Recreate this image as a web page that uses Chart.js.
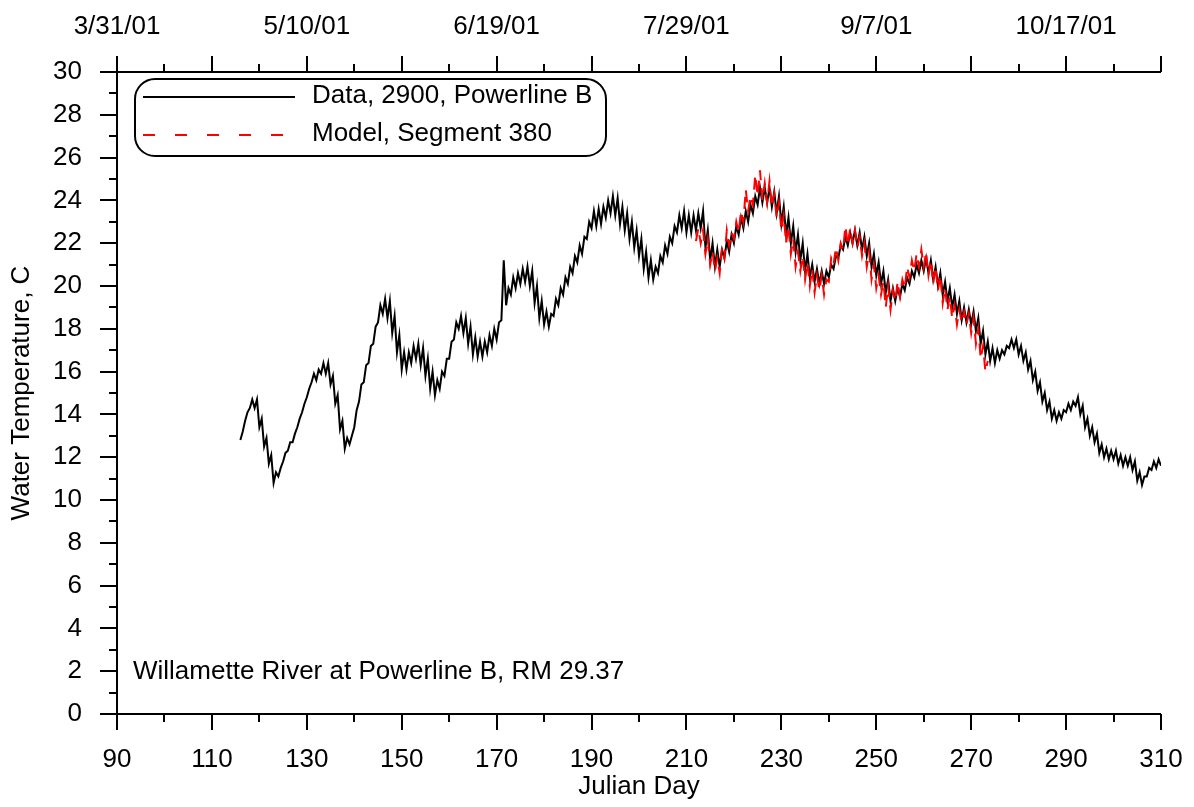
<!DOCTYPE html>
<html>
<head>
<meta charset="utf-8">
<script src="https://cdn.jsdelivr.net/npm/chart.js@4.4.0/dist/chart.umd.min.js"></script>
<style>
  body { margin: 0; background: #fff; }
  canvas { display: block; }
</style>
</head>
<body>
<canvas id="grafica" width="1194" height="807"></canvas>
<script>
// datos (dia juliano, temperatura C)
// un minimo y un maximo por dia: minimo en el dia, maximo medio dia despues
const dataStartDay = 116;
const dataLow = [
  12.8, 13.7, 14.3, 14.3, 13.4, 12.5, 11.7, 10.8, 11.1, 11.8,
  12.3, 12.7, 13.4, 14.1, 14.8, 15.5, 15.6, 15.9, 15.9, 15.4,
  14.5, 13.3, 12.4, 12.6, 13.4, 14.6, 15.5, 16.4, 17.3, 18.3,
  18.7, 18.5, 17.8, 16.9, 16.1, 16.1, 16.4, 16.6, 16.3, 15.8,
  15.2, 14.9, 15.2, 15.8, 16.6, 17.5, 18.0, 17.8, 17.3, 16.8,
  16.7, 16.7, 16.9, 17.2, 17.5, 18.4, 19.1, 19.6, 19.9, 20.1,
  20.2, 20.0, 19.2, 18.5, 18.2, 18.1, 18.6, 19.1, 19.6, 20.1,
  20.6, 21.1, 21.5, 22.2, 22.7, 22.8, 22.9, 23.2, 23.4, 23.3,
  22.9, 22.6, 22.2, 21.8, 21.4, 20.8, 20.4, 20.3, 20.6, 21.1,
  21.5, 22.0, 22.5, 22.7, 22.5, 22.5, 22.6, 22.7, 21.8, 21.2,
  20.9, 20.9, 21.3, 21.6, 22.0, 22.4, 22.7, 23.0, 23.4, 23.8,
  23.9, 23.9, 23.7, 23.4, 22.9, 22.4, 22.0, 21.6, 21.2, 20.7,
  20.4, 20.2, 20.1, 20.1, 20.4, 20.8, 21.3, 21.7, 21.9, 22.0,
  21.9, 21.7, 21.4, 20.9, 20.5, 20.1, 19.7, 19.3, 19.3, 19.5,
  19.8, 20.1, 20.4, 20.6, 20.7, 20.6, 20.3, 20.0, 19.6, 19.3,
  19.0, 18.7, 18.4, 18.3, 18.2, 17.9, 17.3, 16.8, 16.5, 16.4,
  16.6, 16.8, 17.1, 17.1, 16.8, 16.5, 16.1, 15.6, 15.1, 14.6,
  14.2, 13.8, 13.7, 13.8, 14.1, 14.2, 14.4, 14.0, 13.4, 13.0,
  12.7, 12.2, 12.0, 11.9, 11.9, 11.7, 11.6, 11.6, 11.4, 10.9,
  10.7, 11.1, 11.4, 11.5, 11.6
];
const dataHigh = [
  13.2, 14.1, 14.7, 14.7, 13.8, 12.9, 12.1, 11.3, 11.5, 12.2,
  12.7, 13.1, 13.8, 14.5, 15.2, 15.9, 16.1, 16.4, 16.4, 15.8,
  14.9, 13.7, 12.9, 13.0, 14.2, 15.4, 16.3, 17.2, 18.1, 19.1,
  19.4, 19.3, 18.6, 17.7, 16.9, 16.9, 17.2, 17.3, 17.1, 16.6,
  16.0, 15.6, 16.0, 16.6, 17.4, 18.3, 18.6, 18.5, 18.1, 17.6,
  17.4, 17.4, 17.7, 18.0, 18.3, 21.2, 19.9, 20.4, 20.6, 20.8,
  20.9, 20.7, 20.0, 19.3, 18.8, 18.7, 19.4, 19.9, 20.4, 20.9,
  21.4, 21.9, 22.3, 23.0, 23.5, 23.6, 23.7, 24.0, 24.2, 24.1,
  23.7, 23.4, 23.0, 22.6, 22.2, 21.6, 21.2, 20.9, 21.4, 21.9,
  22.3, 22.8, 23.3, 23.5, 23.3, 23.3, 23.4, 23.5, 22.6, 22.0,
  21.7, 21.7, 22.1, 22.4, 22.8, 23.2, 23.5, 23.8, 24.2, 24.6,
  24.6, 24.6, 24.4, 24.2, 23.7, 23.2, 22.8, 22.4, 22.0, 21.5,
  21.0, 20.8, 20.7, 20.7, 21.0, 21.4, 21.9, 22.3, 22.5, 22.6,
  22.5, 22.3, 22.0, 21.5, 21.1, 20.7, 20.3, 19.9, 19.9, 20.1,
  20.4, 20.7, 21.0, 21.2, 21.3, 21.2, 20.9, 20.6, 20.2, 19.9,
  19.6, 19.3, 19.0, 18.9, 18.8, 18.5, 17.9, 17.4, 17.1, 17.0,
  17.0, 17.2, 17.5, 17.5, 17.2, 16.9, 16.5, 16.0, 15.5, 15.0,
  14.6, 14.2, 14.1, 14.2, 14.5, 14.6, 14.8, 14.4, 13.8, 13.4,
  13.1, 12.6, 12.4, 12.3, 12.3, 12.1, 12.0, 12.0, 11.8, 11.3,
  11.1, 11.5, 11.8, 11.9, 12.0
];

// modelo, segmento 380
const modelStartDay = 212;
const modelLow = [
  22.1, 22.0, 21.5, 21.0, 20.7, 20.6, 21.3, 21.9, 22.2, 22.5,
  23.0, 23.5, 23.8, 24.2, 24.0, 23.9, 23.7, 23.2, 22.6, 22.0,
  21.5, 20.9, 20.7, 20.3, 20.0, 19.7, 19.8, 19.6, 20.2, 21.0,
  21.2, 21.7, 21.9, 22.0, 21.8, 21.4, 20.9, 20.3, 19.9, 19.6,
  19.0, 18.9, 19.3, 19.5, 19.9, 20.4, 20.7, 20.9, 20.9, 20.5,
  20.1, 19.8, 19.2, 18.9, 18.5, 18.2, 18.3, 18.2, 17.8, 17.3,
  16.6, 16.0
];
const modelHigh = [
  22.7, 22.6, 22.2, 21.6, 21.3, 21.8, 22.6, 22.5, 23.0, 23.5,
  24.5, 24.2, 25.2, 25.4, 24.8, 24.9, 24.3, 23.9, 23.3, 22.8,
  22.2, 21.6, 21.4, 21.1, 20.8, 20.5, 20.5, 20.3, 21.3, 21.8,
  22.0, 22.8, 22.7, 22.6, 22.3, 22.0, 21.6, 21.0, 20.5, 20.2,
  20.0, 19.8, 20.2, 20.3, 20.9, 21.2, 21.5, 21.7, 21.6, 21.2,
  20.9, 20.5, 19.9, 19.5, 19.1, 18.9, 18.8, 18.7, 18.5, 18.0,
  17.2, 16.5
];

// etiquetas de los ejes
const xTicks = [90, 110, 130, 150, 170, 190, 210, 230, 250, 270, 290, 310];
const yTicks = [0, 2, 4, 6, 8, 10, 12, 14, 16, 18, 20, 22, 24, 26, 28, 30];
const topDays = [90, 130, 170, 210, 250, 290];
const topLabels = ["3/31/01", "5/10/01", "6/19/01", "7/29/01", "9/7/01", "10/17/01"];

const legendNames = ["Data, 2900, Powerline B", "Model, Segment 380"];
const rotulo = "Willamette River at Powerline B, RM 29.37";

const fuente = { family: "'Liberation Sans', Arial, sans-serif", size: 26 };
const fuenteCss = "26px 'Liberation Sans', Arial, sans-serif";

// arma los puntos: minimo y maximo de cada dia
function puntos(inicio, bajos, altos) {
  let pts = [];
  for (let i = 0; i < bajos.length; i++) {
    pts.push({ x: inicio + i, y: bajos[i] });
    pts.push({ x: inicio + i + 0.5, y: altos[i] });
  }
  return pts;
}

// ejes con marcas mayores y menores, cuadro de leyenda y rotulo
const ejesPlugin = {
  id: "ejes",
  afterDraw(chart) {
    const ctx = chart.ctx;
    const sx = chart.scales.x, sy = chart.scales.y, st = chart.scales.x2;
    const a = chart.chartArea;
    ctx.save();
    ctx.strokeStyle = "#000";
    ctx.lineWidth = 2;
    ctx.setLineDash([]);
    ctx.beginPath();
    ctx.moveTo(a.left, a.top); ctx.lineTo(a.left, a.bottom);
    ctx.moveTo(a.left, a.bottom); ctx.lineTo(a.right, a.bottom);
    ctx.moveTo(a.left, a.top); ctx.lineTo(a.right, a.top);
    // marcas eje y
    for (let v = 0; v <= 30; v += 1) {
      const py = Math.round(sy.getPixelForValue(v));
      const len = v % 2 === 0 ? 17 : 8;
      ctx.moveTo(a.left, py); ctx.lineTo(a.left - len, py);
    }
    // marcas ejes x (abajo y arriba)
    for (let d = 90; d <= 310; d += 10) {
      const px = Math.round(sx.getPixelForValue(d));
      const len = (d - 90) % 20 === 0 ? 16 : 8;
      ctx.moveTo(px, a.bottom); ctx.lineTo(px, a.bottom + len);
      const pt = Math.round(st.getPixelForValue(d));
      ctx.moveTo(pt, a.top); ctx.lineTo(pt, a.top - len);
    }
    ctx.stroke();

    // leyenda
    ctx.beginPath();
    ctx.roundRect(135, 79, 471, 77, 20);
    ctx.fillStyle = "#fff";
    ctx.fill();
    ctx.stroke();
    ctx.beginPath();
    ctx.moveTo(143, 97); ctx.lineTo(295, 97);
    ctx.stroke();
    ctx.strokeStyle = "#ff0000";
    ctx.setLineDash([12, 20]);
    ctx.beginPath();
    ctx.moveTo(143, 135); ctx.lineTo(295, 135);
    ctx.stroke();
    ctx.setLineDash([]);
    ctx.fillStyle = "#000";
    ctx.font = fuenteCss;
    ctx.textBaseline = "middle";
    ctx.textAlign = "left";
    ctx.fillText(legendNames[0], 312, 96);
    ctx.fillText(legendNames[1], 312, 134);

    ctx.textBaseline = "alphabetic";
    ctx.fillText(rotulo, 133, 679);
    ctx.restore();
  }
};

// quita el margen que chart.js deja para la mitad de la ultima etiqueta
function sinMargenX(s, alto) {
  s.height = alto;
  s.paddingLeft = 0;
  s.paddingRight = 0;
}

const grafica = document.getElementById("grafica").getContext("2d");

const myChart = new Chart(grafica, {
  type: "line",
  data: {
    datasets: [
      {
        label: legendNames[0],
        data: puntos(dataStartDay, dataLow, dataHigh),
        borderColor: "#000",
        borderWidth: 2,
        pointRadius: 0,
        tension: 0,
        fill: false,
        order: 1
      },
      {
        label: legendNames[1],
        data: puntos(modelStartDay, modelLow, modelHigh),
        borderColor: "#ff0000",
        borderWidth: 2,
        borderDash: [12, 8],
        pointRadius: 0,
        tension: 0,
        fill: false,
        order: 0
      }
    ]
  },
  options: {
    responsive: false,
    devicePixelRatio: 1,
    animation: false,
    layout: { padding: { left: 0, top: 0, right: 33, bottom: 0 } },
    plugins: { legend: { display: false }, tooltip: { enabled: false } },
    scales: {
      x: {
        type: "linear",
        position: "bottom",
        min: 90,
        max: 310,
        afterBuildTicks: (s) => { s.ticks = xTicks.map((v) => ({ value: v })); },
        afterFit: (s) => sinMargenX(s, 93),
        grid: { display: false, drawTicks: false },
        border: { display: false },
        ticks: { font: fuente, color: "#000", padding: 30, maxRotation: 0, autoSkip: false },
        title: { display: true, text: "Julian Day", font: fuente, color: "#000", padding: { top: 0, bottom: 5 } }
      },
      x2: {
        type: "linear",
        position: "top",
        min: 90,
        max: 310,
        afterBuildTicks: (s) => { s.ticks = topDays.map((v) => ({ value: v })); },
        afterFit: (s) => sinMargenX(s, 72),
        grid: { display: false, drawTicks: false },
        border: { display: false },
        ticks: {
          font: fuente,
          color: "#000",
          padding: 30,
          maxRotation: 0,
          autoSkip: false,
          callback: (v) => topLabels[topDays.indexOf(v)]
        }
      },
      y: {
        type: "linear",
        min: 0,
        max: 30,
        afterBuildTicks: (s) => { s.ticks = yTicks.map((v) => ({ value: v })); },
        afterFit: (s) => { s.width = 117; },
        grid: { display: false, drawTicks: false },
        border: { display: false },
        ticks: { font: fuente, color: "#000", padding: 35 },
        title: { display: true, text: "Water Temperature, C", font: fuente, color: "#000", padding: { top: 6, bottom: 0 } }
      }
    }
  },
  plugins: [ejesPlugin]
});
</script>
</body>
</html>
